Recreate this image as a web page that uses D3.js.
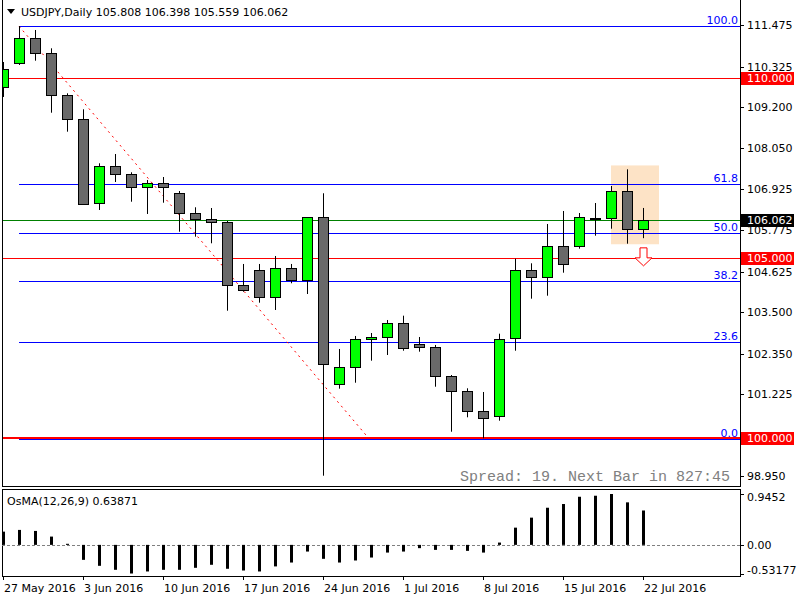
<!DOCTYPE html>
<html>
<head>
<meta charset="utf-8">
<script src="https://cdn.jsdelivr.net/npm/d3@7"></script>
<style>
  body { margin: 0; background: #fff; }
  svg { display: block; font-family: "DejaVu Sans", sans-serif; font-size: 11px; }
</style>
</head>
<body>
<div id="chart"></div>
<script>
// daily USDJPY bars, 27 May 2016 .. 22 Jul 2016
const opens = [109.750,110.417,111.111,110.694,109.528,108.861,106.544,107.564,107.333,106.972,107.083,106.806,106.250,106.083,106.000,104.250,104.667,103.917,104.722,104.389,106.139,101.500,101.961,102.750,102.806,103.194,102.611,102.528,101.722,101.306,100.750,100.600,102.778,104.667,104.472,105.333,105.333,106.125,106.111,106.861,105.808];
const highs = [110.453,111.450,111.342,110.833,109.583,109.139,107.639,107.897,107.389,107.175,107.258,106.869,106.417,106.397,106.036,104.842,104.842,105.064,104.842,106.139,106.806,102.481,102.842,102.925,103.286,103.406,102.814,102.592,101.758,101.389,101.286,102.906,104.989,104.861,105.953,106.314,106.258,106.536,107.008,107.472,106.398];
const lows = [109.481,110.369,110.489,109.044,108.517,106.490,106.342,107.119,106.572,106.231,106.544,105.739,105.600,105.417,103.544,104.072,103.767,103.564,104.306,104.008,98.961,101.378,101.544,102.156,102.314,102.433,102.406,101.433,100.183,100.583,100.000,100.489,102.433,103.878,103.961,104.600,105.267,105.628,105.822,105.406,105.559];
const closes = [110.250,111.111,110.694,109.517,108.861,106.500,107.564,107.333,106.972,107.083,106.972,106.250,106.083,106.000,104.250,104.111,103.917,104.722,104.389,106.139,102.056,101.972,102.750,102.806,103.194,102.489,102.528,101.722,101.306,100.750,100.556,102.750,104.667,104.472,105.333,104.833,106.139,106.130,106.861,105.806,106.062];
const osma = [0.246,0.278,0.259,0.154,0.020,-0.278,-0.389,-0.463,-0.532,-0.494,-0.463,-0.463,-0.426,-0.370,-0.444,-0.476,-0.494,-0.400,-0.328,-0.124,-0.259,-0.328,-0.290,-0.235,-0.143,-0.124,-0.061,-0.093,-0.093,-0.111,-0.143,0.043,0.320,0.506,0.690,0.759,0.894,0.913,0.9452,0.790,0.63871];

const dateLabels = ["27 May 2016","3 Jun 2016","10 Jun 2016","17 Jun 2016","24 Jun 2016","1 Jul 2016","8 Jul 2016","15 Jul 2016","22 Jul 2016"];
const dateIdx = [0,5,10,15,20,25,30,35,40];
const priceTicks = [111.475,110.325,109.200,108.050,106.925,105.775,104.625,103.500,102.350,101.225,100.075,98.950];
const hiddenTicks = [100.075]; // covered by the 100.000 marker
const osmaTicks = [0.9452,0,-0.53177];

const redLevels = [110.000,105.000,100.000];
const bidPrice = 106.062;
const fibLevels = [0,23.6,38.2,50,61.8,100];
const fibLow = 99.98, fibHigh = 111.45, fibStartBar = 1;
const trendFrom = [1, 111.45], trendTo = [22.8, 100.03];
const boxBars = [38, 41], boxPrices = [105.39, 107.58];
const arrowAt = [40, 105.29];

const W = 800, H = 600;
const left = 2, right = 740, mainTop = -1, mainBottom = 487, subTop = 489, subBottom = 576;

const svg = d3.select("#chart").append("svg").attr("width", W).attr("height", H);
svg.append("rect").attr("width", W).attr("height", H).attr("fill", "#fff");

const x = d3.scaleLinear().domain([0, 40]).range([3, 643]);
const y = d3.scaleLinear().domain([98.647, 112.175]).range([487, 0]);
const yo = d3.scaleLinear().domain([-0.53177, 0.9452]).range([573.5, 494]);

svg.append("clipPath").attr("id", "mainClip").append("rect")
  .attr("x", left).attr("y", 0).attr("width", right - left).attr("height", mainBottom);
svg.append("clipPath").attr("id", "subClip").append("rect")
  .attr("x", left).attr("y", subTop).attr("width", right - left).attr("height", subBottom - subTop);

const main = svg.append("g").attr("clip-path", "url(#mainClip)");

// highlight box
main.append("rect")
  .attr("x", x(boxBars[0])).attr("y", y(boxPrices[1]))
  .attr("width", x(boxBars[1]) - x(boxBars[0]))
  .attr("height", y(boxPrices[0]) - y(boxPrices[1]))
  .attr("fill", "#fde3c6");

// fibo levels
const fibY = l => Math.round(y(fibLow + (fibHigh - fibLow) * l / 100)) + 0.5;
main.selectAll(".fib").data(fibLevels).enter().append("line")
  .attr("x1", x(fibStartBar)).attr("x2", right)
  .attr("y1", fibY).attr("y2", fibY)
  .attr("stroke", "#0000ff").attr("stroke-width", 1);
svg.selectAll(".fibLabel").data(fibLevels).enter().append("text")
  .attr("x", 738).attr("y", d => fibY(d) - 3)
  .attr("text-anchor", "end").attr("fill", "#0000ff")
  .text(d => d.toFixed(1));

// bid line
main.append("line")
  .attr("x1", left).attr("x2", right)
  .attr("y1", Math.round(y(bidPrice)) + 0.5).attr("y2", Math.round(y(bidPrice)) + 0.5)
  .attr("stroke", "#008000");

// red round-number lines
main.selectAll(".red").data(redLevels).enter().append("line")
  .attr("x1", left).attr("x2", right)
  .attr("y1", d => d === 100 ? Math.round(y(d)) : Math.round(y(d)) + 0.5)
  .attr("y2", d => d === 100 ? Math.round(y(d)) : Math.round(y(d)) + 0.5)
  .attr("stroke", "#ff0000").attr("stroke-width", d => d === 100 ? 2 : 1);

// dotted trend line
main.append("line")
  .attr("x1", x(trendFrom[0])).attr("y1", y(trendFrom[1]))
  .attr("x2", x(trendTo[0])).attr("y2", y(trendTo[1]))
  .attr("stroke", "#ff0000").attr("stroke-width", 1).attr("stroke-dasharray", "2,4");

// candles
const bars = d3.range(opens.length);
const cg = main.selectAll(".candle").data(bars).enter().append("g");
cg.append("line")
  .attr("x1", i => x(i) + 0.5).attr("x2", i => x(i) + 0.5)
  .attr("y1", i => y(highs[i])).attr("y2", i => y(lows[i]))
  .attr("stroke", "#000");
cg.append("rect")
  .attr("x", i => x(i) - 4.5)
  .attr("y", i => Math.round(y(Math.max(opens[i], closes[i]))) + 0.5)
  .attr("width", 10)
  .attr("height", i => Math.max(1, Math.round(Math.abs(y(opens[i]) - y(closes[i])))))
  .attr("fill", i => Math.abs(y(opens[i]) - y(closes[i])) < 1.5 ? "#000" : (closes[i] > opens[i] ? "#00ff00" : "#696969"))
  .attr("stroke", "#000");

// down arrow
const ax = x(arrowAt[0]) + 0.5, ay = y(arrowAt[1]);
main.append("path")
  .attr("d", `M${ax - 3.5},${ay} H${ax + 3.5} V${ay + 10} H${ax + 8.5} L${ax},${ay + 18} L${ax - 8.5},${ay + 10} H${ax - 3.5} Z`)
  .attr("fill", "#fff").attr("stroke", "#ff0000").attr("stroke-width", 1);

// spread text
svg.append("text").attr("x", 460).attr("y", 481)
  .attr("font-family", "'Liberation Mono', monospace").attr("font-size", 15)
  .attr("fill", "#808080").text("Spread: 19. Next Bar in 827:45");

// frames
svg.append("rect").attr("x", left + 0.5).attr("y", mainTop + 0.5)
  .attr("width", right - left).attr("height", mainBottom - mainTop - 1)
  .attr("fill", "none").attr("stroke", "#000");
svg.append("rect").attr("x", left + 0.5).attr("y", subTop + 0.5)
  .attr("width", right - left).attr("height", subBottom - subTop)
  .attr("fill", "none").attr("stroke", "#000");

// title
svg.append("path").attr("d", "M7,9 L15,9 L11,14 Z").attr("fill", "#000");
svg.append("text").attr("x", 21).attr("y", 16)
  .text("USDJPY,Daily  105.808 106.398 105.559 106.062");

// price axis
const pa = svg.append("g");
pa.selectAll("line").data(priceTicks).enter().append("line")
  .attr("x1", right).attr("x2", right + 4)
  .attr("y1", d => Math.round(y(d)) + 0.5).attr("y2", d => Math.round(y(d)) + 0.5)
  .attr("stroke", "#000");
pa.selectAll("text").data(priceTicks.filter(d => !hiddenTicks.includes(d))).enter().append("text")
  .attr("x", 747).attr("y", d => y(d) + 4)
  .text(d => d.toFixed(3));

// price boxes
const boxes = redLevels.map(p => ({ p: p, fill: "#ff0000" })).concat([{ p: bidPrice, fill: "#000" }]);
const bg = svg.selectAll(".pbox").data(boxes).enter().append("g");
bg.append("rect")
  .attr("x", right + 1).attr("y", d => Math.round(y(d.p)) - 6)
  .attr("width", 53).attr("height", 13).attr("fill", d => d.fill);
bg.append("text")
  .attr("x", 747).attr("y", d => Math.round(y(d.p)) + 4)
  .attr("fill", "#fff").text(d => d.p.toFixed(3));

// OsMA histogram
const sub = svg.append("g").attr("clip-path", "url(#subClip)");
sub.append("line")
  .attr("x1", left).attr("x2", right)
  .attr("y1", Math.round(yo(0)) + 0.5).attr("y2", Math.round(yo(0)) + 0.5)
  .attr("stroke", "#808080").attr("stroke-dasharray", "3,2");
sub.selectAll(".hist").data(bars).enter().append("rect")
  .attr("x", i => x(i) - 1)
  .attr("y", i => Math.min(yo(osma[i]), yo(0)))
  .attr("width", 3)
  .attr("height", i => Math.max(1, Math.abs(yo(osma[i]) - yo(0))))
  .attr("fill", "#000");
svg.append("text").attr("x", 7).attr("y", 505).text("OsMA(12,26,9) 0.63871");

const oa = svg.append("g");
oa.selectAll("line").data(osmaTicks).enter().append("line")
  .attr("x1", right).attr("x2", right + 4)
  .attr("y1", d => Math.round(yo(d)) + 0.5).attr("y2", d => Math.round(yo(d)) + 0.5)
  .attr("stroke", "#000");
oa.selectAll("text").data(osmaTicks).enter().append("text")
  .attr("x", 747).attr("y", d => Math.min(574, Math.max(501, yo(d) + 4)))
  .text(d => d === 0 ? "0.00" : String(d));

// time axis
const ta = svg.append("g");
ta.selectAll("line").data(dateIdx).enter().append("line")
  .attr("x1", d => x(d) + 0.5).attr("x2", d => x(d) + 0.5)
  .attr("y1", subBottom).attr("y2", subBottom + 4)
  .attr("stroke", "#000");
ta.selectAll("text").data(dateIdx).enter().append("text")
  .attr("x", d => x(d) + 1).attr("y", 592)
  .text((d, k) => dateLabels[k]);
</script>
</body>
</html>
